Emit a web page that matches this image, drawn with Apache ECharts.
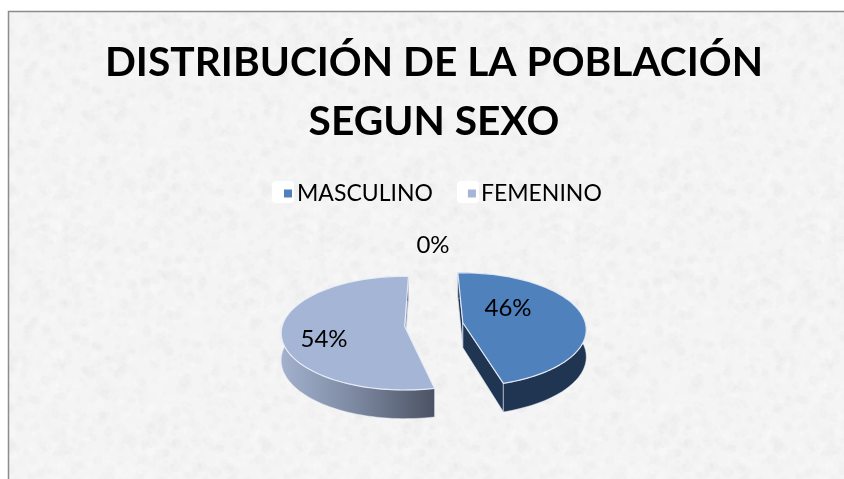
<!DOCTYPE html>
<html><head><meta charset="utf-8">
<style>html,body{margin:0;padding:0;background:#fff}#c{width:844px;height:479px}</style>
<script src="https://cdn.jsdelivr.net/npm/echarts@6/dist/echarts.min.js"></script>
</head><body><div id="c"></div>
<script>
var categories = ['MASCULINO', 'FEMENINO', ''];
var values = [46, 54, 0];
var labels = ['46%', '54%', '0%'];
var titleLines = 'DISTRIBUCIÓN DE LA POBLACIÓN\nSEGUN SEXO';

var FONT = 'Lato, "Open Sans", sans-serif';
var total = values[0] + values[1] + values[2];
// per-slice look
var sliceStyle = [
  {top:'#4F81BD', cut:'#1F3552', startAngle:-2.6, wall:'#1F3552'},
  {top:'#A5B5D6', cut:'#8D9BB8', startAngle:167.6, wall:{type:'linear',x:0,y:0,x2:1,y2:0,colorStops:[{offset:0,color:'#A3B1CE'},{offset:.5,color:'#7B879F'},{offset:1,color:'#4B5263'}]}},
  {top:'#9BBB59', cut:'#9BBB59', startAngle:0, wall:'#9BBB59'}
];
var CX=434, CY=325, RX=122.5, RY=56, K=0.122, DEPTH=27, EXPLODE=0.24;

function proj(a, r, ox, oy){
  var t=a*Math.PI/180, X=r*Math.sin(t), Y=r*Math.cos(t), w=1+K*Y;
  return [ox+RX*X/w, oy-RY*Y/w, DEPTH*(1-0.5*K*Y)];
}
function drop(p){return [p[0], p[1]+p[2]];}
function flat(p){return [p[0], p[1]];}

function makeRender(idx){
  return function(params, api){
    var v=api.value(0), s=sliceStyle[idx], sweep=v/total*360, a0=s.startAngle;
    var mid=a0+sweep/2, e=proj(mid,EXPLODE,CX,CY);
    var ox=e[0], oy=e[1], children=[];
    if(sweep>0){
      var rim=[], n=90;
      for(var i=0;i<=n;i++) rim.push(proj(a0+sweep*i/n,1,ox,oy));
      var apex=[ox,oy,DEPTH-2];
      // cut faces
      [rim[0],rim[n]].forEach(function(p){
        children.push({type:'polygon',shape:{points:[flat(apex),flat(p),drop(p),drop(apex)]},
          style:{fill:s.cut,stroke:'rgba(230,236,245,0.75)',lineWidth:1}});
      });
      // outer wall
      var wall=rim.map(flat).concat(rim.slice().reverse().map(drop));
      children.push({type:'polygon',shape:{points:wall},style:{fill:s.wall,stroke:'rgba(230,236,245,0.6)',lineWidth:0.8}});
      // top face
      children.push({type:'polygon',shape:{points:[flat(apex)].concat(rim.map(flat))},
        style:{fill:s.top,stroke:'rgba(235,240,248,0.9)',lineWidth:1.2,lineJoin:'round'}});
    }
    children.push({type:'text',style:{text:labels[idx],x:CX+(idx===2?-1:(idx===0?74:-110)),y:CY+(idx===2?-80:(idx===0?-17:14)),
      fill:'#000',font:'24px '+FONT,align:'center',verticalAlign:'middle'},z2:10});
    return {type:'group',children:children};
  };
}

// deterministic paper-like mottling, decoration only
function paper(){
  var S=256, c=document.createElement('canvas'); c.width=c.height=S;
  var g=c.getContext('2d'), seed=12345;
  function nx(){seed=(seed*1664525+1013904223)%4294967296;return seed/4294967296;}
  g.fillStyle='#F4F4F4'; g.fillRect(0,0,S,S);
  for(var i=0;i<1800;i++){
    var x=nx()*S,y=nx()*S,r=1.5+nx()*4,l=nx()>0.5?255:228,al=0.05+nx()*0.14;
    for(var ox=-S;ox<=S;ox+=S)for(var oy=-S;oy<=S;oy+=S){
      g.fillStyle='rgba('+l+','+l+','+l+','+al+')';
      g.beginPath();g.arc(x+ox,y+oy,r,0,7);g.fill();
    }
  }
  return c;
}

var chart=echarts.init(document.getElementById('c'),null,{renderer:'canvas'});
var series=[0,1,2].map(function(i){
  return {type:'custom',name:categories[i]||'0',coordinateSystem:'none',silent:true,animation:false,
    itemStyle:{color:sliceStyle[i].top},data:[[values[i]]],renderItem:makeRender(i),z:i===0?3:2};
});
chart.setOption({
  animation:false,
  backgroundColor:'#fff',
  graphic:[
    {type:'rect',z:-2,shape:{x:8.5,y:11.5,width:860,height:490},style:{fill:{image:paper(),repeat:'repeat'},stroke:'#8C8C8C',lineWidth:1.5}},
    {type:'rect',z:-1,shape:{x:272,y:181,width:22,height:22,r:4},style:{fill:'#fff'}},
    {type:'rect',z:-1,shape:{x:457,y:181,width:22,height:22,r:4},style:{fill:'#fff'}}
  ],
  title:{text:titleLines,left:429,top:28,textAlign:'center',
    textStyle:{fontFamily:FONT,fontSize:40.7,fontWeight:'bold',color:'#000',lineHeight:59}},
  legend:{data:categories.slice(0,2),left:279,top:177,itemWidth:8,itemHeight:8,itemGap:35,icon:'rect',
    textStyle:{fontFamily:FONT,fontSize:23,color:'#000',padding:[0,0,0,0]},selectedMode:false},
  series:series
});
</script></body></html>
